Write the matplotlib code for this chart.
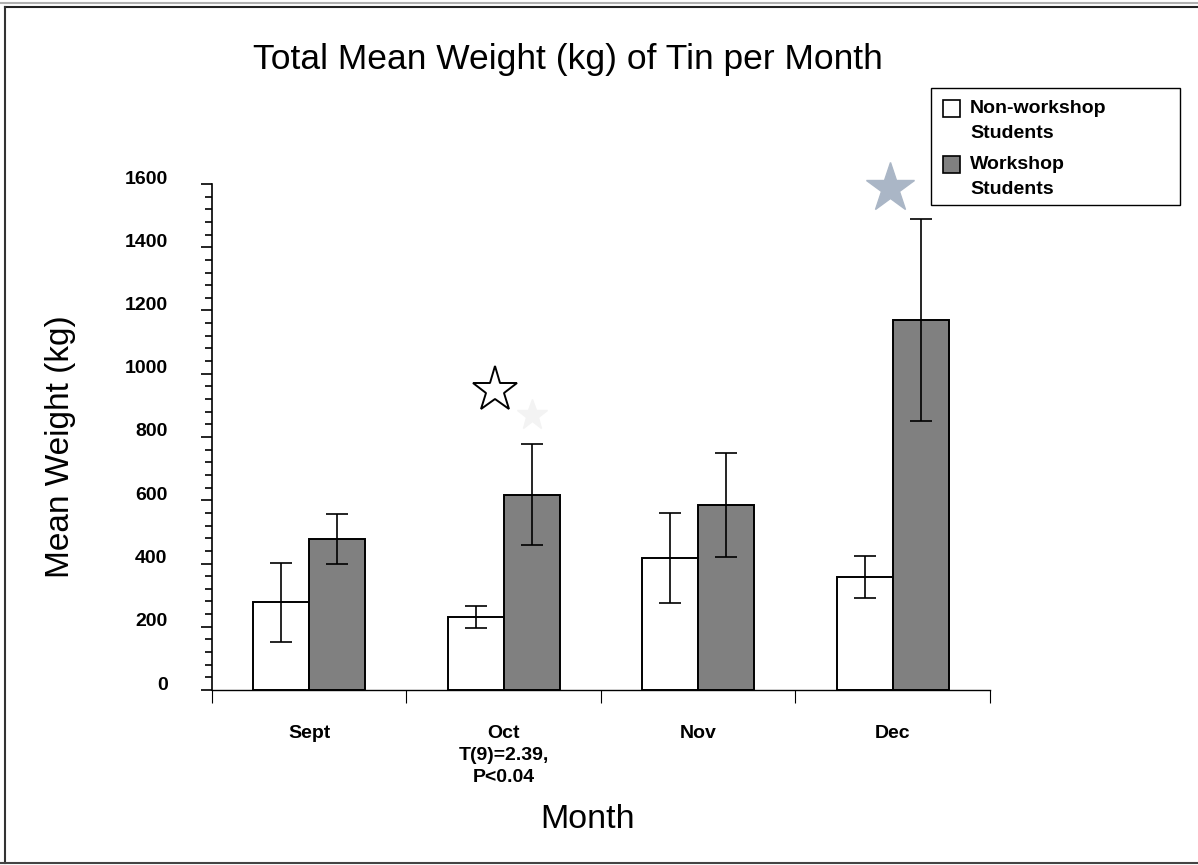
import numpy as np
import matplotlib.pyplot as plt
from matplotlib.patches import Rectangle
from matplotlib.lines import Line2D
from matplotlib.ticker import MultipleLocator, FixedLocator, NullFormatter
import matplotlib.transforms as mtransforms

plt.rcParams['font.family'] = ['Liberation Sans', 'DejaVu Sans']

meses = ['Sept', 'Oct\nT(9)=2.39,\nP<0.04', 'Nov', 'Dec']
media_sem_oficina = [278, 231, 417, 357]
erro_sem_oficina = [125, 35, 142, 66]
media_oficina = [477, 617, 585, 1170]
erro_oficina = [80, 160, 165, 318]
rotulos_legenda = ['Non-workshop\nStudents', 'Workshop\nStudents']

cinza = '#808080'
cores = ['white', cinza]
x = np.arange(len(meses))
largura = 0.288
W, H = 1198, 865

fig = plt.figure(figsize=(W/100, H/100), dpi=100)
ax = fig.add_axes([212/W, 1 - 690/H, 778/W, 506/H])

err_kw = dict(ecolor='black', elinewidth=1.2, capsize=8, capthick=1.2)
ax.bar(x - largura/2, media_sem_oficina, largura, yerr=erro_sem_oficina,
       color=cores[0], edgecolor='black', linewidth=1.4, error_kw=err_kw)
ax.bar(x + largura/2, media_oficina, largura, yerr=erro_oficina,
       color=cores[1], edgecolor='black', linewidth=1.4, error_kw=err_kw)

# estrelas de significancia
topo_oct = media_oficina[1] + erro_oficina[1]
ax.plot(x[1] - 0.045, topo_oct + 172, marker='*', markersize=34,
        markerfacecolor='white', markeredgecolor='black', markeredgewidth=1.4,
        linestyle='none', clip_on=False)
ax.plot(x[1] + largura/2, topo_oct + 91, marker='*', markersize=23,
        color='#f3f3f3', linestyle='none', clip_on=False)
topo_dec = media_oficina[3] + erro_oficina[3]
ax.plot(x[3] - 0.015, topo_dec + 98, marker='*', markersize=37,
        color='#aab6c6', linestyle='none', clip_on=False)

ax.set_xlim(-0.5, 3.5)
ax.set_ylim(0, 1600)
ax.spines['top'].set_visible(False)
ax.spines['right'].set_visible(False)
ax.spines['left'].set_linewidth(1.2)
ax.spines['bottom'].set_linewidth(1.0)

ax.yaxis.set_major_locator(MultipleLocator(200))
ax.yaxis.set_minor_locator(MultipleLocator(40))
ax.tick_params(axis='y', which='major', length=8, width=1.2, pad=24,
               labelsize=14)
ax.tick_params(axis='y', which='minor', length=5, width=1.2)
for lab in ax.get_yticklabels():
    lab.set_fontweight('bold')
    lab.set_transform(lab.get_transform() +
                      mtransforms.ScaledTranslation(0, 7/100, fig.dpi_scale_trans))

ax.set_xticks(x)
ax.set_xticklabels(meses, fontweight='bold', fontsize=14, linespacing=1.4)
ax.tick_params(axis='x', which='major', length=0, pad=25)
ax.xaxis.set_minor_locator(FixedLocator(np.arange(-0.5, 4, 1)))
ax.xaxis.set_minor_formatter(NullFormatter())
ax.tick_params(axis='x', which='minor', length=9, width=0.8, direction='out')

fig.text(568/W, 1 - 60/H, 'Total Mean Weight (kg) of Tin per Month',
         ha='center', va='center', fontsize=25.5)
fig.text(61/W, 1 - 447/H, 'Mean Weight (kg)', rotation=90,
         ha='center', va='center', fontsize=24)
fig.text(588/W, 1 - 820/H, 'Month', ha='center', va='center', fontsize=24.5)

# legenda desenhada a mao
fig.add_artist(Rectangle((931/W, 1 - 205/H), 249/W, 117/H,
                         transform=fig.transFigure, facecolor='white',
                         edgecolor='black', linewidth=1.0))
for i, (rotulo, cor) in enumerate(zip(rotulos_legenda, cores)):
    cy = 109 + 56*i
    fig.add_artist(Rectangle((943/W, 1 - (cy + 8)/H), 17/W, 17/H,
                             transform=fig.transFigure, facecolor=cor,
                             edgecolor='black', linewidth=1.2))
    fig.text(970/W, 1 - (cy + 12)/H, rotulo, ha='left', va='center',
             multialignment='left', fontsize=14, fontweight='bold',
             linespacing=1.55)

# moldura da figura
fig.add_artist(Line2D([0, 1], [1 - 3/H, 1 - 3/H], color='#b0b0b0', lw=1.5))
fig.add_artist(Line2D([5/W, 1], [1 - 7/H, 1 - 7/H], color='#222222', lw=1.5))
fig.add_artist(Line2D([5/W, 5/W], [1 - 7/H, 1 - 863/H], color='#333333', lw=1.5))
fig.add_artist(Line2D([0, 1], [1 - 863/H, 1 - 863/H], color='#444444', lw=1.5))

fig.savefig('out.png', dpi=100)
